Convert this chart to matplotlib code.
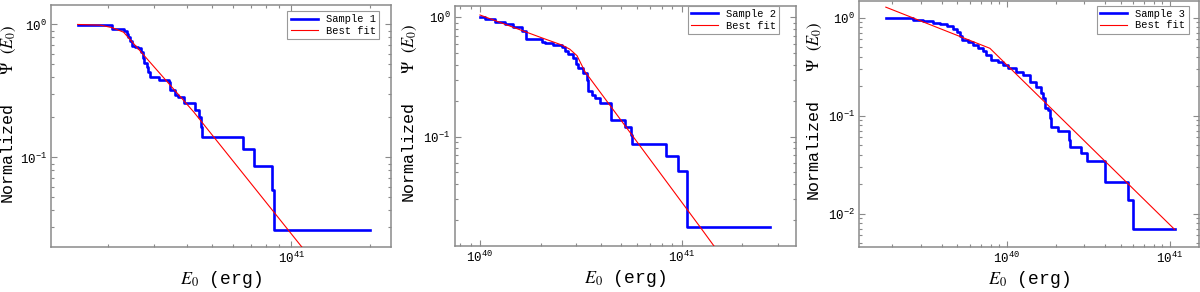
import matplotlib
matplotlib.use("Agg")
import matplotlib.pyplot as plt
from matplotlib.ticker import LogLocator, NullFormatter, LogFormatterMathtext
import numpy as np

# ---------------- data ----------------
# Sample 1 (E in units of 1e40 erg)
E1 = [1.53, 2.07, 2.29, 2.35, 2.39, 2.43, 2.47, 2.54, 2.61, 2.67, 2.72, 2.75, 2.81, 2.85, 2.90,
      3.12, 3.40, 3.43, 3.61, 3.68, 3.88, 4.30, 4.43, 4.53, 4.56, 6.52, 7.18, 8.44, 8.55, 20.0]
P1 = [0.99, 0.917, 0.891, 0.855, 0.807, 0.753, 0.690, 0.679, 0.660, 0.623, 0.555, 0.509, 0.480,
      0.440, 0.404, 0.381, 0.370, 0.320, 0.294, 0.285, 0.256, 0.227, 0.200, 0.170, 0.143, 0.115,
      0.086, 0.0568, 0.0284, 0.0284]
FE1 = [1.53, 1.87, 2.07, 2.19, 2.29, 4.24, 10.99, 12.0]
FP1 = [1.0, 0.988, 0.946, 0.906, 0.875, 0.220, 0.0211, 0.0169]

# Sample 2 (E in units of 1e40 erg)
E2 = [1.0, 1.059, 1.187, 1.33, 1.46, 1.61, 1.70, 2.02, 2.10, 2.31, 2.54, 2.64, 2.74, 2.90, 3.01,
      3.07, 3.25, 3.40, 3.44, 3.58, 3.72, 3.94, 4.45, 5.22, 5.59, 5.65, 8.33, 9.59, 10.59, 27.4]
P2 = [1.0, 0.962, 0.920, 0.885, 0.830, 0.769, 0.653, 0.625, 0.613, 0.586, 0.564, 0.522, 0.489,
      0.458, 0.403, 0.378, 0.341, 0.300, 0.239, 0.224, 0.210, 0.191, 0.138, 0.121, 0.103, 0.0863,
      0.0689, 0.0518, 0.0175, 0.0175]
FE2 = [1.0, 2.02, 2.55, 2.79, 3.03, 3.32, 12.33, 15.49]
FP2 = [1.047, 0.675, 0.586, 0.541, 0.477, 0.350, 0.01753, 0.01033]

# Sample 3 (E in units of 1e39 erg)
E3 = [1.82, 2.68, 3.08, 3.55, 3.91, 4.29, 4.71, 4.94, 5.18, 5.30, 5.82, 6.25, 6.70, 7.19, 7.54,
      8.09, 8.89, 9.53, 10.23, 11.51, 12.64, 13.89, 15.26, 16.38, 16.75, 17.16, 17.98, 18.41,
      18.86, 20.7, 24.1, 24.4, 28.5, 31.0, 40.0, 40.4, 55.7, 59.6, 107.3]
P3 = [1.0, 0.954, 0.919, 0.883, 0.862, 0.817, 0.772, 0.714, 0.645, 0.596, 0.560, 0.530, 0.490,
      0.460, 0.418, 0.372, 0.352, 0.331, 0.306, 0.281, 0.2596, 0.222, 0.197, 0.1686, 0.150,
      0.1185, 0.1138, 0.0936, 0.0768, 0.070, 0.0562, 0.048, 0.0411, 0.0345, 0.0277, 0.0209,
      0.01384, 0.00691, 0.00691]
FE3 = [1.82, 7.91, 107.3]
FP3 = [1.277, 0.486, 0.00691]

labels = ["Sample 1", "Sample 2", "Sample 3"]
fit_label = "Best fit"

# ---------------- style ----------------
plt.rcParams['mathtext.fontset'] = 'stix'
plt.rcParams['font.family'] = ['Liberation Mono', 'DejaVu Sans']
FRAME = '#8a8a8a'

fig = plt.figure(figsize=(12, 2.92), dpi=100)

panels = [
    dict(rect=[0.0425, 0.154, 0.2833, 0.8288], E=np.array(E1) * 1e40, P=P1,
         FE=np.array(FE1) * 1e40, FP=FP1, xlim=(1.21e40, 2.4e41), ylim=(0.0212, 1.4),
         lab=labels[0], anchor=(0.965, 0.975), ylx=-0.098),
    dict(rect=[0.379, 0.158, 0.284, 0.822], E=np.array(E2) * 1e40, P=P2,
         FE=np.array(FE2) * 1e40, FP=FP2, xlim=(7.5e39, 3.68e41), ylim=(0.0121, 1.25),
         lab=labels[1], anchor=(0.952, 1.0), ylx=-0.106),
    dict(rect=[0.716, 0.155, 0.283, 0.842], E=np.array(E3) * 1e39, P=P3,
         FE=np.array(FE3) * 1e39, FP=FP3, xlim=(1.25e39, 1.51e41), ylim=(0.0046, 1.48),
         lab=labels[2], anchor=(0.97, 0.98), ylx=-0.104),
]

for p in panels:
    ax = fig.add_axes(p['rect'])
    ax.set_xscale('log')
    ax.set_yscale('log')
    ax.step(p['E'], p['P'], where='post', color='#0000ff', lw=1.9, label=p['lab'], zorder=2)
    ax.plot(p['FE'], p['FP'], color='#ff0000', lw=0.8, label=fit_label, zorder=3)
    ax.set_xlim(*p['xlim'])
    ax.set_ylim(*p['ylim'])
    for s in ax.spines.values():
        s.set_color(FRAME)
        s.set_linewidth(1.1)
    ax.xaxis.set_major_locator(LogLocator(base=10, numticks=10))
    ax.xaxis.set_minor_locator(LogLocator(base=10, subs=np.arange(2, 10), numticks=20))
    ax.yaxis.set_major_locator(LogLocator(base=10, numticks=10))
    ax.yaxis.set_minor_locator(LogLocator(base=10, subs=np.arange(2, 10), numticks=20))
    ax.xaxis.set_minor_formatter(NullFormatter())
    ax.yaxis.set_minor_formatter(NullFormatter())
    ax.xaxis.set_major_formatter(LogFormatterMathtext())
    ax.yaxis.set_major_formatter(LogFormatterMathtext())
    ax.tick_params(which='both', direction='in', top=True, right=True, color=FRAME,
                   labelsize=9, width=0.8)
    ax.tick_params(which='major', length=4.5, pad=3)
    ax.tick_params(which='minor', length=2.5)
    ax.set_xlabel(r'$E_0$ (erg)', fontsize=13, labelpad=2)
    ax.set_ylabel(r'Normalized   $\Psi\ \ (E_0)$', fontsize=12)
    ax.yaxis.set_label_coords(p['ylx'], 0.55)
    leg = ax.legend(loc='upper right', bbox_to_anchor=p['anchor'], fontsize=7.5,
                    frameon=True, fancybox=False, framealpha=1, edgecolor='#999999',
                    handlelength=2.6, borderpad=0.3, labelspacing=0.15, handletextpad=0.8,
                    borderaxespad=0.0)
    leg.get_frame().set_linewidth(0.8)

fig.savefig('out.png', dpi=100)
